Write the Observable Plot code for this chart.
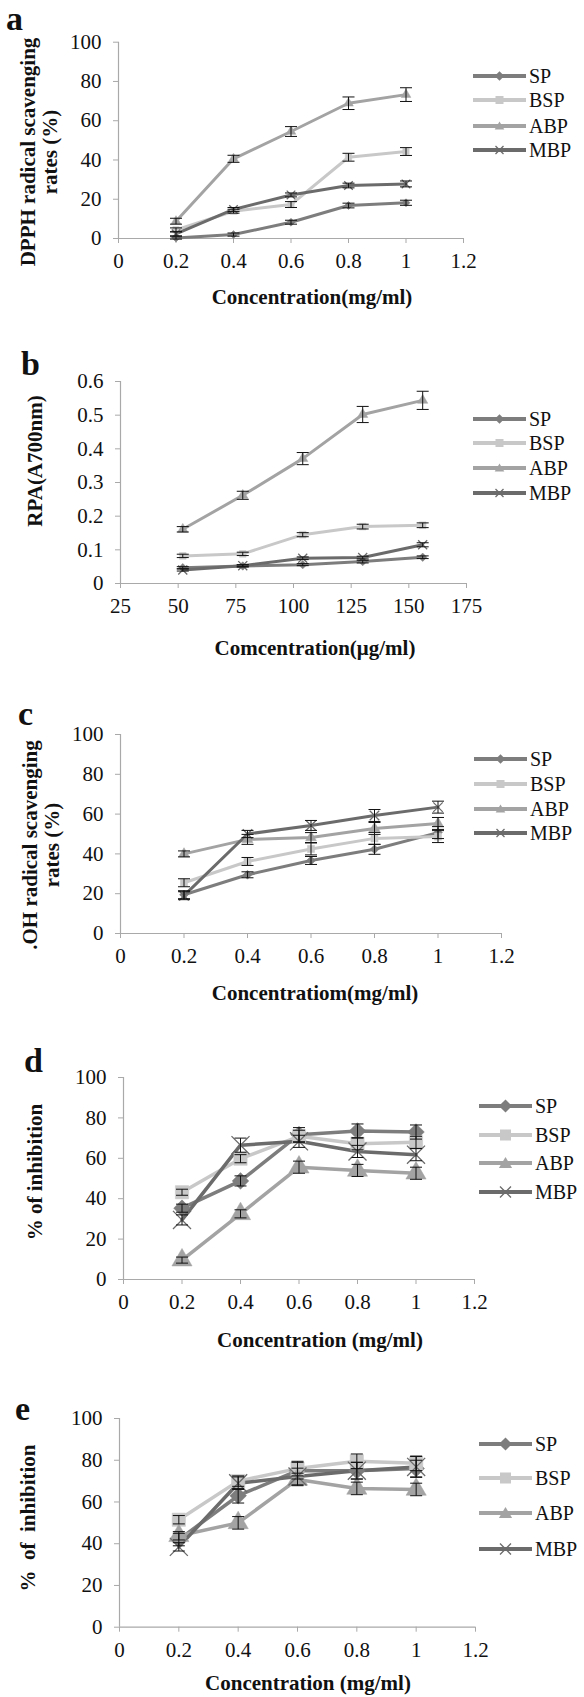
<!DOCTYPE html>
<html>
<head>
<meta charset="utf-8">
<script src="https://cdn.jsdelivr.net/npm/d3@7"></script>
<script src="https://cdn.jsdelivr.net/npm/@observablehq/plot@0.6"></script>
<style>
  html, body { margin: 0; padding: 0; background: #fff; }
  #wrap { position: relative; width: 584px; height: 1697px; overflow: hidden; background: #fff;
          font-family: "Liberation Serif", "Times New Roman", serif; color: #111; }
  #wrap svg.plot { position: absolute; left: 0; font-family: "Liberation Serif", "Times New Roman", serif; }
  #wrap svg.plot text { font-family: "Liberation Serif", "Times New Roman", serif; }
  .lbl { position: absolute; white-space: pre; }
  .letter { font-weight: bold; font-size: 34px; line-height: 34px; }
  .ytitle { font-weight: bold; font-size: 21px; line-height: 22px; text-align: center;
            transform: translate(-50%, -50%) rotate(-90deg); }
  .xtitle { font-weight: bold; font-size: 21px; line-height: 22px; transform: translate(-50%, -50%); }
  .leg { position: absolute; display: flex; align-items: center; font-size: 20px; line-height: 20px; }
</style>
</head>
<body>
<div id="wrap"></div>
<script>
// ---------------- data ----------------
const seriesNames = ["SP", "BSP", "ABP", "MBP"];
const seriesColors = ["#7d7d7d", "#c8c8c8", "#a3a3a3", "#6b6b6b"];
const seriesSymbols = ["diamond2", "square", "triangle", "times"];

const concMg = [0.2, 0.4, 0.6, 0.8, 1.0];
const concUg = [52, 78, 104, 130, 156];
const xTicksMg = [0, 0.2, 0.4, 0.6, 0.8, 1, 1.2];
const xTicksUg = [25, 50, 75, 100, 125, 150, 175];
const yTicksPct = [0, 20, 40, 60, 80, 100];
const yTicksRpa = [0, 0.1, 0.2, 0.3, 0.4, 0.5, 0.6];

// (a) DPPH
const dpphSP  = [0.3, 2.0, 8.3, 16.8, 18.2];
const dpphBSP = [4.4, 13.9, 17.3, 41.4, 44.3];
const dpphABP = [8.8, 40.6, 54.5, 68.9, 73.3];
const dpphMBP = [2.4, 14.8, 22.2, 27.0, 27.8];
const dpphSPerr  = [0.6, 0.8, 1.0, 1.2, 1.3];
const dpphBSPerr = [1.0, 1.0, 1.5, 2.0, 2.0];
const dpphABPerr = [1.5, 1.8, 2.5, 3.2, 3.5];
const dpphMBPerr = [1.0, 1.0, 1.0, 1.2, 1.5];

// (b) RPA
const rpaSP  = [0.047, 0.052, 0.056, 0.065, 0.078];
const rpaBSP = [0.082, 0.088, 0.145, 0.169, 0.173];
const rpaABP = [0.161, 0.262, 0.371, 0.502, 0.544];
const rpaMBP = [0.040, 0.053, 0.075, 0.077, 0.115];
const rpaSPerr  = [0.003, 0.003, 0.003, 0.004, 0.004];
const rpaBSPerr = [0.005, 0.005, 0.006, 0.007, 0.007];
const rpaABPerr = [0.008, 0.012, 0.018, 0.024, 0.027];
const rpaMBPerr = [0.003, 0.003, 0.004, 0.004, 0.006];

// (c) .OH
const ohSP  = [19.5, 29.5, 36.7, 42.3, 50.7];
const ohBSP = [25.5, 36.2, 42.5, 47.8, 48.7];
const ohABP = [40.0, 47.3, 48.2, 52.8, 55.3];
const ohMBP = [19.0, 50.0, 54.3, 59.3, 63.5];
const ohSPerr  = [2.0, 1.5, 2.0, 2.5, 3.0];
const ohBSPerr = [2.0, 2.0, 3.0, 3.0, 3.0];
const ohABPerr = [1.5, 2.5, 2.5, 3.0, 3.0];
const ohMBPerr = [2.0, 1.8, 2.5, 3.0, 3.0];

// (d) % inhibition
const dSP  = [35.3, 48.8, 71.7, 73.5, 73.0];
const dBSP = [43.2, 59.8, 70.9, 67.2, 67.9];
const dABP = [9.6, 32.5, 55.6, 54.0, 52.6];
const dMBP = [29.5, 66.5, 68.4, 63.4, 61.8];
const dSPerr  = [2.0, 2.5, 3.5, 3.5, 3.5];
const dBSPerr = [1.5, 2.0, 3.0, 3.0, 3.0];
const dABPerr = [1.5, 2.0, 3.0, 3.0, 3.0];
const dMBPerr = [2.5, 3.5, 3.0, 3.0, 3.0];

// (e) % inhibition
const eSP  = [42.0, 63.0, 75.0, 75.0, 76.0];
const eBSP = [51.5, 70.0, 76.0, 79.5, 78.5];
const eABP = [43.8, 50.0, 70.8, 66.5, 66.0];
const eMBP = [38.5, 69.0, 72.2, 75.0, 76.8];
const eSPerr  = [3.0, 3.5, 4.0, 4.0, 4.0];
const eBSPerr = [2.0, 2.5, 3.5, 3.5, 3.5];
const eABPerr = [2.0, 3.0, 3.0, 3.0, 3.0];
const eMBPerr = [2.0, 3.0, 4.0, 4.0, 5.0];

// ---------------- drawing ----------------
const wrap = document.getElementById("wrap");
const FONT = '"Liberation Serif", "Times New Roman", serif';
const AXIS = "#a9a9a9";

const capSymbol = { draw(ctx) { ctx.moveTo(-6, 0); ctx.lineTo(6, 0); } };

function rowsOf(xs, vals, errs) {
  return seriesNames.flatMap((s, i) => xs.map((x, j) => ({ series: s, x, y: vals[i][j], e: errs[i][j] })));
}

function legendMarker(sym, cx, cy, s, color) {
  if (sym === "diamond2") return `<path d="M${cx},${cy - s * 0.6}L${cx + s * 0.6},${cy}L${cx},${cy + s * 0.6}L${cx - s * 0.6},${cy}Z" fill="${color}"/>`;
  if (sym === "square") return `<rect x="${cx - s / 2}" y="${cy - s / 2}" width="${s}" height="${s}" fill="${color}"/>`;
  if (sym === "triangle") return `<path d="M${cx},${cy - s * 0.55}L${cx + s * 0.6},${cy + s * 0.45}L${cx - s * 0.6},${cy + s * 0.45}Z" fill="${color}"/>`;
  const h = s * 0.5;
  return `<path d="M${cx - h},${cy - h}L${cx + h},${cy + h}M${cx - h},${cy + h}L${cx + h},${cy - h}" stroke="${color}" stroke-width="1.3" fill="none"/>`;
}

function addText(cls, html, css) {
  const d = document.createElement("div");
  d.className = "lbl " + cls;
  d.innerHTML = html;
  Object.assign(d.style, css);
  wrap.appendChild(d);
}

function panel(p) {
  const rows = rowsOf(p.xs, p.vals, p.errs);
  const filled = rows.filter(d => d.series !== "MBP");
  const crosses = rows.filter(d => d.series === "MBP");
  const svg = Plot.plot({
    width: 584, height: p.height,
    marginTop: p.mt, marginBottom: p.mb, marginLeft: p.ml, marginRight: p.mr,
    x: { domain: p.xDomain },
    y: { domain: p.yDomain },
    color: { domain: seriesNames, range: seriesColors },
    symbol: { domain: seriesNames, range: seriesSymbols },
    style: { fontFamily: FONT, fontSize: "21px", color: "#111", background: "transparent", overflow: "visible" },
    marks: [
      Plot.ruleY([p.yDomain[0]], { stroke: AXIS, strokeWidth: 1.2 }),
      Plot.ruleX([p.xDomain[0]], { stroke: AXIS, strokeWidth: 1.2 }),
      Plot.axisX({ ticks: p.xTicks, tickSize: 5, tickPadding: 10, stroke: AXIS, fill: "#111",
                   fontFamily: FONT, fontSize: 21, tickFormat: d => String(d), label: null }),
      Plot.axisY({ ticks: p.yTicks, tickSize: 5, tickPadding: 12, stroke: AXIS, fill: "#111",
                   fontFamily: FONT, fontSize: 21, tickFormat: d => String(d), label: null }),
      Plot.line(rows, { x: "x", y: "y", z: "series", stroke: "series", strokeWidth: p.lineW }),
      Plot.dot(filled, { x: "x", y: "y", symbol: "series", fill: "series", stroke: "series", strokeWidth: 0.5, r: p.markR }),
      Plot.dot(crosses, { x: "x", y: "y", symbol: "series", stroke: "series", strokeWidth: 1.3, r: p.markR * 1.1 }),
      Plot.link(rows, { x1: "x", x2: "x", y1: d => d.y - d.e, y2: d => d.y + d.e, stroke: "#111", strokeWidth: 1 }),
      Plot.dot(rows, { x: "x", y: d => d.y + d.e, symbol: capSymbol, stroke: "#111", strokeWidth: 1, fill: "none" }),
      Plot.dot(rows, { x: "x", y: d => d.y - d.e, symbol: capSymbol, stroke: "#111", strokeWidth: 1, fill: "none" })
    ]
  });
  svg.classList.add("plot");
  svg.style.top = p.top + "px";
  wrap.appendChild(svg);

  addText("letter", p.letter, { left: p.letterX + "px", top: (p.letterBase - 28.5) + "px" });
  addText("ytitle", p.yTitle, { left: p.yTitleX + "px", top: p.yTitleY + "px" });
  addText("xtitle", p.xTitle, { left: p.xTitleX + "px", top: p.xTitleY + "px" });
  seriesNames.forEach((s, i) => {
    const w = p.legX2 - p.legX1;
    const el = document.createElement("div");
    el.className = "leg";
    el.style.left = p.legX1 + "px";
    el.style.top = (p.legYs[i] - 10) + "px";
    el.innerHTML = `<svg width="${w + 3}" height="20" style="display:block">` +
      `<line x1="0" x2="${w}" y1="10" y2="10" stroke="${seriesColors[i]}" stroke-width="4"/>` +
      legendMarker(seriesSymbols[i], w / 2, 10, p.legS, seriesColors[i]) +
      `</svg><span>${s}</span>`;
    wrap.appendChild(el);
  });
}

panel({
  letter: "a", letterX: 6, letterBase: 30,
  top: 0, height: 300, mt: 41.7, mb: 62, ml: 118, mr: 121,
  xDomain: [0, 1.2], xTicks: xTicksMg, yDomain: [0, 100], yTicks: yTicksPct,
  xs: concMg,
  vals: [dpphSP, dpphBSP, dpphABP, dpphMBP], errs: [dpphSPerr, dpphBSPerr, dpphABPerr, dpphMBPerr],
  lineW: 3, markR: 3.6,
  yTitle: "DPPH radical scavenging<br>rates (%)", yTitleX: 39, yTitleY: 152,
  xTitle: "Concentration(mg/ml)", xTitleX: 312, xTitleY: 297,
  legX1: 473, legX2: 526, legYs: [76, 100, 126, 150], legS: 8
});

panel({
  letter: "b", letterX: 21, letterBase: 375,
  top: 320, height: 320, mt: 61, mb: 57, ml: 120, mr: 118,
  xDomain: [25, 175], xTicks: xTicksUg, yDomain: [0, 0.6], yTicks: yTicksRpa,
  xs: concUg,
  vals: [rpaSP, rpaBSP, rpaABP, rpaMBP], errs: [rpaSPerr, rpaBSPerr, rpaABPerr, rpaMBPerr],
  lineW: 3, markR: 3.8,
  yTitle: "RPA(A700nm)", yTitleX: 35, yTitleY: 461,
  xTitle: "Comcentration(μg/ml)", xTitleX: 315, xTitleY: 648,
  legX1: 473, legX2: 526, legYs: [419, 443, 468, 493], legS: 8
});

panel({
  letter: "c", letterX: 18, letterBase: 725,
  top: 660, height: 320, mt: 74, mb: 47, ml: 120, mr: 83,
  xDomain: [0, 1.2], xTicks: xTicksMg, yDomain: [0, 100], yTicks: yTicksPct,
  xs: concMg,
  vals: [ohSP, ohBSP, ohABP, ohMBP], errs: [ohSPerr, ohBSPerr, ohABPerr, ohMBPerr],
  lineW: 3, markR: 4,
  yTitle: ".OH radical scavenging<br>rates (%)", yTitleX: 40.5, yTitleY: 845,
  xTitle: "Concentratiom(mg/ml)", xTitleX: 315, xTitleY: 993,
  legX1: 474, legX2: 527, legYs: [759, 784, 809, 833], legS: 8
});

panel({
  letter: "d", letterX: 24, letterBase: 1072,
  top: 1000, height: 320, mt: 77, mb: 41, ml: 123, mr: 110,
  xDomain: [0, 1.2], xTicks: xTicksMg, yDomain: [0, 100], yTicks: yTicksPct,
  xs: concMg,
  vals: [dSP, dBSP, dABP, dMBP], errs: [dSPerr, dBSPerr, dABPerr, dMBPerr],
  lineW: 3.5, markR: 7.5,
  yTitle: "% of inhibition", yTitleX: 35, yTitleY: 1172,
  xTitle: "Concentration (mg/ml)", xTitleX: 320, xTitleY: 1340,
  legX1: 479, legX2: 532, legYs: [1106, 1135, 1163, 1192], legS: 11
});

panel({
  letter: "e", letterX: 15, letterBase: 1420,
  top: 1340, height: 330, mt: 78, mb: 43.3, ml: 119, mr: 109,
  xDomain: [0, 1.2], xTicks: xTicksMg, yDomain: [0, 100], yTicks: yTicksPct,
  xs: concMg,
  vals: [eSP, eBSP, eABP, eMBP], errs: [eSPerr, eBSPerr, eABPerr, eMBPerr],
  lineW: 3.5, markR: 7.5,
  yTitle: "%  of  inhibition", yTitleX: 28, yTitleY: 1518,
  xTitle: "Concentration (mg/ml)", xTitleX: 308, xTitleY: 1683,
  legX1: 479, legX2: 532, legYs: [1444, 1478, 1513, 1549], legS: 11
});
</script>
</body>
</html>
